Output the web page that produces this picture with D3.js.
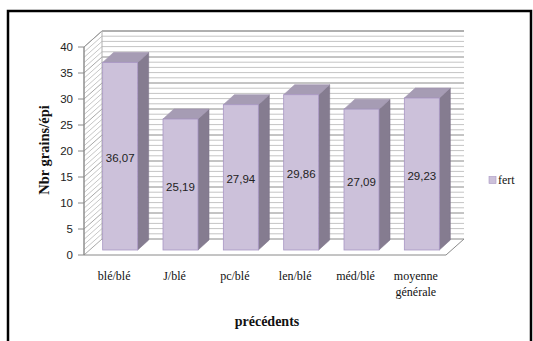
<!DOCTYPE html>
<html>
<head>
<meta charset="utf-8">
<script src="https://cdn.jsdelivr.net/npm/d3@7"></script>
<style>
  body { margin: 0; background: #fff; }
</style>
</head>
<body>
<svg id="canvas"></svg>
<script>
const categories = ["blé/blé", "J/blé", "pc/blé", "len/blé", "méd/blé", "moyenne générale"];
const values = [36.07, 25.19, 27.94, 29.86, 27.09, 29.23];
const valueLabels = ["36,07", "25,19", "27,94", "29,86", "27,09", "29,23"];
const yTicks = [0, 5, 10, 15, 20, 25, 30, 35, 40];
const seriesName = "fert";

const width = 533, height = 341;

const svg = d3.select("#canvas")
    .attr("width", width)
    .attr("height", height);

// 3d depth of the plot box and of the bars
const depth = { dx: 18, dy: -16 };
const barFront = { dx: 6, dy: -5 };
const barDepth = { dx: 11, dy: -10 };

const scaleX = d3.scaleBand()
    .domain(categories)
    .range([84, 446])
    .paddingInner(0.42)
    .paddingOuter(0.21);
const scaleY = d3.scaleLinear()
    .domain([0, 40])
    .range([255, 47]);

// outer frame
svg.append("rect")
    .attr("x", 8).attr("y", 11)
    .attr("width", 523).attr("height", 340)
    .attr("fill", "none")
    .attr("stroke", "#000")
    .attr("stroke-width", 2.5);

const x0 = scaleX.range()[0], x1 = scaleX.range()[1];
const grid = svg.append("g").classed("grid", true);

// minor grid every unit, on back wall and side wall
const minor = d3.range(0, 41, 1);
minor.forEach(v => {
    const y = scaleY(v);
    const major = v % 5 === 0;
    grid.append("line")
        .attr("x1", x0 + depth.dx).attr("x2", x1 + depth.dx)
        .attr("y1", y + depth.dy).attr("y2", y + depth.dy)
        .attr("stroke", major ? "#8a8a8a" : "#c4c4c4")
        .attr("stroke-width", 1);
    grid.append("line")
        .attr("x1", x0).attr("x2", x0 + depth.dx)
        .attr("y1", y).attr("y2", y + depth.dy)
        .attr("stroke", major ? "#909090" : "#b8b8b8")
        .attr("stroke-width", 0.8);
});

// walls outline
const wallColor = "#9a9a9a";
grid.append("path")
    .attr("d", `M${x0},${scaleY(0)} L${x0},${scaleY(40)} L${x0 + depth.dx},${scaleY(40) + depth.dy} L${x1 + depth.dx},${scaleY(40) + depth.dy}`)
    .attr("fill", "none").attr("stroke", wallColor);
grid.append("line")
    .attr("x1", x0 + depth.dx).attr("x2", x0 + depth.dx)
    .attr("y1", scaleY(0) + depth.dy).attr("y2", scaleY(40) + depth.dy)
    .attr("stroke", "#b0b0b0");
// floor
grid.append("path")
    .attr("d", `M${x0},${scaleY(0)} L${x1},${scaleY(0)} L${x1 + depth.dx},${scaleY(0) + depth.dy}`)
    .attr("fill", "none").attr("stroke", "#8a8a8a");

// y axis ticks and labels
const axisY = svg.append("g").classed("axisY", true);
axisY.append("line")
    .attr("x1", x0).attr("x2", x0)
    .attr("y1", scaleY(0)).attr("y2", scaleY(40))
    .attr("stroke", "#8a8a8a");
yTicks.forEach(t => {
    axisY.append("line")
        .attr("x1", x0 - 6).attr("x2", x0)
        .attr("y1", scaleY(t)).attr("y2", scaleY(t))
        .attr("stroke", "#8a8a8a");
    axisY.append("text")
        .attr("x", x0 - 11).attr("y", scaleY(t))
        .attr("dy", "0.35em")
        .attr("text-anchor", "end")
        .attr("font-family", "Liberation Sans, Arial, sans-serif")
        .attr("font-size", 11.5)
        .attr("fill", "#222")
        .text(t);
});

// bars
const bars = svg.append("g").classed("bars", true);
categories.forEach((c, i) => {
    const v = values[i];
    const bx = scaleX(c) + barFront.dx;
    const bw = scaleX.bandwidth();
    const yb = scaleY(0) + barFront.dy;
    const yt = scaleY(v) + barFront.dy;
    const g = bars.append("g");
    // side
    g.append("path")
        .attr("d", `M${bx + bw},${yt} L${bx + bw + barDepth.dx},${yt + barDepth.dy} L${bx + bw + barDepth.dx},${yb + barDepth.dy} L${bx + bw},${yb} Z`)
        .attr("fill", "#857c90")
        .attr("stroke", "#7d7489").attr("stroke-width", 0.6);
    // top
    g.append("path")
        .attr("d", `M${bx},${yt} L${bx + barDepth.dx},${yt + barDepth.dy} L${bx + bw + barDepth.dx},${yt + barDepth.dy} L${bx + bw},${yt} Z`)
        .attr("fill", "#a69cb4")
        .attr("stroke", "#9d92ad").attr("stroke-width", 0.6);
    // front
    g.append("rect")
        .attr("x", bx).attr("y", yt)
        .attr("width", bw).attr("height", yb - yt)
        .attr("fill", "#ccc1da")
        .attr("stroke", "#a896c4").attr("stroke-width", 0.8);
    g.append("text")
        .attr("x", bx + bw / 2)
        .attr("y", (yt + yb) / 2 + 2)
        .attr("dy", "0.35em")
        .attr("text-anchor", "middle")
        .attr("font-family", "Liberation Sans, Arial, sans-serif")
        .attr("font-size", 11.5)
        .attr("fill", "#222")
        .text(valueLabels[i]);
});

// category labels
const axisX = svg.append("g").classed("axisX", true);
categories.forEach(c => {
    const cx = scaleX(c) + scaleX.bandwidth() / 2;
    const words = c === "moyenne générale" ? ["moyenne", "générale"] : [c];
    words.forEach((w, k) => {
        axisX.append("text")
            .attr("x", cx).attr("y", 276 + k * 15.5)
            .attr("dy", "0.35em")
            .attr("text-anchor", "middle")
            .attr("font-family", "Liberation Serif, Times New Roman, serif")
            .attr("font-size", 12)
            .attr("fill", "#111")
            .text(w);
    });
});

// axis titles
svg.append("text")
    .attr("x", 267).attr("y", 321)
    .attr("dy", "0.35em")
    .attr("text-anchor", "middle")
    .attr("font-family", "Liberation Serif, Times New Roman, serif")
    .attr("font-weight", "bold")
    .attr("font-size", 14)
    .attr("fill", "#111")
    .text("précédents");
svg.append("text")
    .attr("transform", "translate(44,150) rotate(-90)")
    .attr("dy", "0.35em")
    .attr("text-anchor", "middle")
    .attr("font-family", "Liberation Serif, Times New Roman, serif")
    .attr("font-weight", "bold")
    .attr("font-size", 14.5)
    .attr("fill", "#111")
    .text("Nbr grains/épi");

// legend
const legend = svg.append("g").attr("transform", "translate(489,180)");
legend.append("rect")
    .attr("x", 0).attr("y", -3.5)
    .attr("width", 7).attr("height", 7)
    .attr("fill", "#ccc1da")
    .attr("stroke", "#a896c4").attr("stroke-width", 0.6);
legend.append("text")
    .attr("x", 9).attr("y", 0)
    .attr("dy", "0.35em")
    .attr("font-family", "Liberation Serif, Times New Roman, serif")
    .attr("font-size", 12)
    .attr("fill", "#111")
    .text(seriesName);
</script>
</body>
</html>
